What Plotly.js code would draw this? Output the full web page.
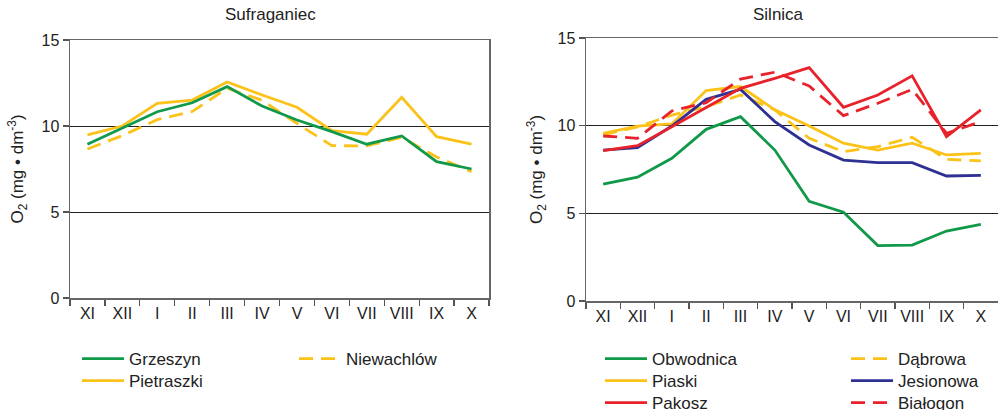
<!DOCTYPE html>
<html>
<head>
<meta charset="utf-8">
<script src="https://cdn.plot.ly/plotly-3.0.1.min.js"></script>
<style>html,body{margin:0;padding:0;background:#fff;overflow:hidden;}#chart{width:998px;height:430px;}</style>
</head>
<body>
<div id="chart"></div>
<script>
const months = ["XI","XII","I","II","III","IV","V","VI","VII","VIII","IX","X"];

// Sufraganiec
const grzeszyn   = [8.94, 9.9, 10.83, 11.35, 12.29, 11.16, 10.35, 9.67, 8.94, 9.42, 7.93, 7.5];
const pietraszki = [9.48, 10.0, 11.32, 11.51, 12.56, 11.8, 11.09, 9.73, 9.52, 11.67, 9.38, 8.94];
const niewachlow = [8.66, 9.44, 10.37, 10.84, 12.19, 11.5, 10.15, 8.86, 8.84, 9.34, 8.2, 7.34];

// Silnica
const obwodnica  = [6.66, 7.06, 8.14, 9.79, 10.51, 8.61, 5.69, 5.06, 3.16, 3.19, 3.99, 4.37];
const piaski     = [9.56, 9.98, 10.1, 12.0, 12.23, 10.9, 9.98, 9.0, 8.61, 9.0, 8.33, 8.42];
const pakosz     = [8.57, 8.86, 9.94, 11.05, 12.13, 12.7, 13.31, 11.05, 11.75, 12.84, 9.37, 10.9];
const dabrowa    = [9.47, 9.93, 10.6, 11.08, 11.75, 10.9, 9.28, 8.52, 8.8, 9.34, 8.08, 7.99];
const jesionowa  = [8.61, 8.75, 9.98, 11.5, 12.07, 10.23, 8.9, 8.04, 7.89, 7.89, 7.13, 7.17];
const bialogon   = [9.41, 9.28, 10.84, 11.31, 12.66, 13.05, 12.26, 10.57, 11.28, 12.07, 9.56, 10.23];

const GREEN = "#11994a", YELLOW = "#fbc21a", RED = "#e8222b", BLUE = "#2e3192";
const LW = 2.8;
const DASH = "14px,8px";

function tr(name, y, color, dash, xa, ya, legend) {
  return {type: "scatter", mode: "lines", name: name, x: months, y: y,
    xaxis: xa, yaxis: ya, legend: legend,
    line: {color: color, width: LW, dash: dash || "solid"}};
}

const data = [
  tr("Niewachlów", niewachlow, YELLOW, DASH, "x", "y", "legend3"),
  tr("Pietraszki", pietraszki, YELLOW, null, "x", "y", "legend2"),
  tr("Grzeszyn", grzeszyn, GREEN, null, "x", "y", "legend"),
  tr("Obwodnica", obwodnica, GREEN, null, "x2", "y2", "legend4"),
  tr("Dąbrowa", dabrowa, YELLOW, DASH, "x2", "y2", "legend7"),
  tr("Piaski", piaski, YELLOW, null, "x2", "y2", "legend5"),
  tr("Jesionowa", jesionowa, BLUE, null, "x2", "y2", "legend8"),
  tr("Białogon", bialogon, RED, DASH, "x2", "y2", "legend9"),
  tr("Pakosz", pakosz, RED, null, "x2", "y2", "legend6")
];

const FONT = "Liberation Sans, Arial, sans-serif";
const TXT = "#222";
const W = 998, H = 430; // page is photographed at 998x410; extra height lets the last legend row run off the edge as in the reference

function xax(domain, anchor) {
  return {domain: domain, anchor: anchor, type: "category", tickson: "boundaries",
    ticks: "outside", ticklen: 6, tickcolor: "#555", tickwidth: 1.2,
    showline: true, linecolor: "#666", linewidth: 1.5, mirror: true,
    showgrid: false, tickfont: {family: FONT, size: 16, color: TXT},
    range: [-0.5, 11.5], fixedrange: true};
}
function yax(topPx, botPx, anchor, mirror, standoff) {
  return {domain: [(H - botPx)/H, (H - topPx)/H], anchor: anchor, range: [0, 15], tickvals: [0, 5, 10, 15],
    ticks: "outside", ticklen: 6, tickcolor: "#555", tickwidth: 1.2,
    showline: true, linecolor: "#666", linewidth: 1.5, mirror: mirror,
    showgrid: true, gridcolor: "#222", gridwidth: 1, zeroline: false,
    tickfont: {family: FONT, size: 16, color: TXT},
    title: {text: "O<sub>2</sub> (mg • dm<sup>-3</sup>)", font: {family: FONT, size: 17, color: TXT}, standoff: standoff},
    fixedrange: true};
}

function leg(xpx, rowY) {
  return {x: xpx/W, y: 1 - (rowY - 18)/H, xanchor: "left", yanchor: "top", orientation: "v",
    font: {family: FONT, size: 17, color: TXT}, bgcolor: "rgba(0,0,0,0)",
    itemwidth: 42, tracegroupgap: 0};
}

const layout = {
  width: W, height: H,
  margin: {l: 0, r: 0, t: 0, b: 0, autoexpand: false},
  paper_bgcolor: "#fff", plot_bgcolor: "#fff",
  showlegend: true,
  xaxis: xax([70/W, 489/W], "y"),
  yaxis: yax(40, 298, "x", true, 13),
  xaxis2: xax([586/W, 1], "y2"),
  yaxis2: yax(38, 301, "x2", false, 10),
  legend:  leg(77, 359),
  legend2: leg(77, 381),
  legend3: leg(294, 359),
  legend4: leg(600, 359),
  legend5: leg(600, 381),
  legend6: leg(600, 403),
  legend7: leg(846, 359),
  legend8: leg(846, 381),
  legend9: leg(846, 403),
  annotations: [
    {text: "Sufraganiec", x: 270/W, y: 1 - 15/H, xref: "paper", yref: "paper",
     xanchor: "center", yanchor: "middle", showarrow: false, font: {family: FONT, size: 17, color: TXT}},
    {text: "Silnica", x: 778/W, y: 1 - 15/H, xref: "paper", yref: "paper",
     xanchor: "center", yanchor: "middle", showarrow: false, font: {family: FONT, size: 17, color: TXT}}
  ]
};

Plotly.newPlot("chart", data, layout, {displayModeBar: false, staticPlot: true});
</script>
</body>
</html>
